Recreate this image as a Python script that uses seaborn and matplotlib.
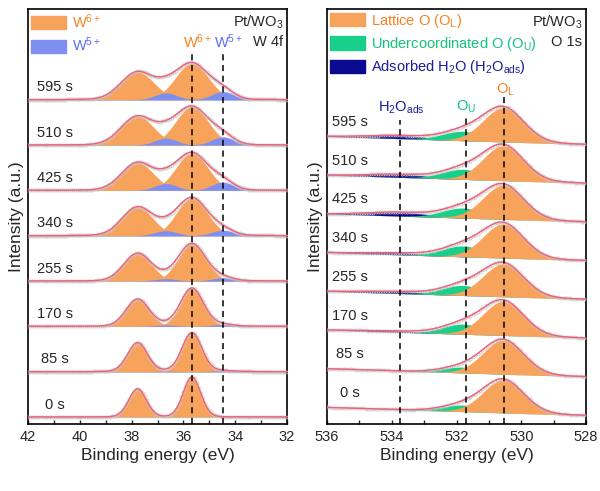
import numpy as np
import pandas as pd
import seaborn as sns
import matplotlib
matplotlib.use('Agg')
import matplotlib.pyplot as plt
from matplotlib.patches import Patch
from matplotlib.ticker import MultipleLocator

sns.set_style('ticks')
plt.rcParams['font.family'] = ['Liberation Sans', 'DejaVu Sans']
plt.rcParams['mathtext.default'] = 'regular'

# sputtering times, bottom to top
times = ['0 s', '85 s', '170 s', '255 s', '340 s', '425 s', '510 s', '595 s']

# W 4f fitted peaks (heights in units of the stacking offset)
w6_pos = [37.77, 35.67]
w5_pos = [36.68, 34.48]
w6_h72 = [0.88, 0.86, 0.84, 0.82, 0.83, 0.82, 0.84, 0.80]
w6_h52 = [0.62, 0.64, 0.60, 0.61, 0.63, 0.61, 0.63, 0.61]
w6_fwhm = [0.80, 0.90, 1.05, 1.25, 1.40, 1.45, 1.50, 1.50]
w5_h72 = [0.00, 0.02, 0.04, 0.07, 0.12, 0.18, 0.18, 0.18]
w5_h52 = [0.00, 0.01, 0.03, 0.05, 0.11, 0.15, 0.15, 0.15]
w5_fwhm = 1.0

# O 1s fitted peaks
ol_pos, ou_pos, h2o_pos = 530.55, 531.8, 533.75
ol_h = [0.85, 0.88, 0.88, 0.85, 0.88, 0.88, 0.90, 0.88]
ou_h = [0.17, 0.15, 0.26, 0.26, 0.28, 0.26, 0.26, 0.24]
h2o_h = [0.00, 0.00, 0.03, 0.05, 0.05, 0.10, 0.08, 0.08]
ol_fwhm, ou_fwhm, h2o_fwhm = 1.48, 1.5, 2.2
o_slope = 0.026

c_or, c_bl, c_gr, c_nv = '#f7a35c', '#7f8ff0', '#19d08a', '#0b0b92'
t_or, t_bl, t_gr, t_nv = '#f5821f', '#5b6ff0', '#12c47f', '#1a1aa0'
c_env = '#f0607a'


def peak(x, c, h, fwhm, eta=0.05):
    s = fwhm / 2.3548
    g = np.exp(-0.5 * ((x - c) / s) ** 2)
    l = 1 / (1 + ((x - c) / (fwhm / 2)) ** 2)
    return h * ((1 - eta) * g + eta * l)


def draw_env(ax, x, y):
    ax.plot(x[::3], y[::3], ls='none', marker='o', ms=2.2, mfc='none',
            mec='#c4c4c4', mew=0.5, zorder=4)
    sns.lineplot(x=x, y=y, ax=ax, color=c_env, lw=1.0, zorder=5)


fig = plt.figure(figsize=(6, 4.91), dpi=100)
ax1 = fig.add_axes([0.0467, 0.1365, 0.4317, 0.8452])
ax2 = fig.add_axes([0.545, 0.1365, 0.4317, 0.8452])

# ---- W 4f ----
xw = np.linspace(42, 32, 401)
for i, t in enumerate(times):
    base = np.full_like(xw, float(i))
    ax1.plot(xw, base, color='#b5c8d8', lw=0.8, zorder=1)
    p6 = [peak(xw, w6_pos[0], w6_h52[i], w6_fwhm[i]), peak(xw, w6_pos[1], w6_h72[i], w6_fwhm[i])]
    p5 = [peak(xw, w5_pos[0], w5_h52[i], w5_fwhm), peak(xw, w5_pos[1], w5_h72[i], w5_fwhm)]
    for p in p6:
        ax1.fill_between(xw, base, base + p, color=c_or, lw=0, zorder=2)
    for p in p5:
        ax1.fill_between(xw, base, base + p, color=c_bl, lw=0, zorder=3)
    draw_env(ax1, xw, base + sum(p6) + sum(p5))
    ax1.text(40.96, i + 0.27, t, ha='center', va='center', fontsize=10.5)

ax1.set_xlim(42, 32)
ax1.set_ylim(-0.155, 9.0)
for xv in [35.66, 34.48]:
    ax1.axvline(xv, ymin=0, ymax=0.896, color='k', ls=(0, (4, 3)), lw=1.1, zorder=6)
ax1.text(35.45, 0.92, 'W$^{6+}$', color=t_or, ha='center', va='center', fontsize=10.5,
         transform=ax1.get_xaxis_transform())
ax1.text(34.25, 0.92, 'W$^{5+}$', color=t_bl, ha='center', va='center', fontsize=10.5,
         transform=ax1.get_xaxis_transform())
ax1.text(0.985, 0.969, 'Pt/WO$_3$', ha='right', va='center', fontsize=10.5, transform=ax1.transAxes)
ax1.text(0.985, 0.92, 'W 4f', ha='right', va='center', fontsize=10.5, transform=ax1.transAxes)
ax1.legend(handles=[Patch(color=c_or, label='W$^{6+}$'), Patch(color=c_bl, label='W$^{5+}$')],
           labelcolor=[t_or, t_bl], loc='upper left', frameon=False, fontsize=10.5,
           handlelength=2.4, handleheight=1.0, handletextpad=0.4, labelspacing=0.35,
           borderaxespad=0.1, borderpad=0.1)

# ---- O 1s ----
xo = np.linspace(536, 528, 321)
for i, t in enumerate(times):
    base = i + o_slope * (xo - 528)
    ax2.plot(xo, base, color='#b5c8d8', lw=0.8, zorder=1)
    pn = peak(xo, h2o_pos, h2o_h[i], h2o_fwhm)
    pu = peak(xo, ou_pos, ou_h[i], ou_fwhm)
    pl = peak(xo, ol_pos, ol_h[i], ol_fwhm)
    ax2.fill_between(xo, base, base + pn, color=c_nv, lw=0, zorder=2)
    ax2.fill_between(xo, base, base + pu, color=c_gr, lw=0, zorder=2)
    ax2.fill_between(xo, base, base + pl, color=c_or, lw=0, zorder=3)
    draw_env(ax2, xo, base + pn + pu + pl)
    ax2.text(535.3, i + o_slope * 7.3 + 0.39, t, ha='center', va='center', fontsize=10.5)

ax2.set_xlim(536, 528)
ax2.set_ylim(-0.22, 10.5)
for xv, top in [(530.54, 0.788), (531.72, 0.745), (533.73, 0.733)]:
    ax2.axvline(xv, ymin=0, ymax=top, color='k', ls=(0, (4, 3)), lw=1.1, zorder=6)
tr = ax2.get_xaxis_transform()
ax2.text(530.48, 0.805, 'O$_L$', color=t_or, ha='center', va='center', fontsize=10.5, transform=tr)
ax2.text(531.7, 0.764, 'O$_U$', color=t_gr, ha='center', va='center', fontsize=10.5, transform=tr)
ax2.text(533.7, 0.761, 'H$_2$O$_{ads}$', color=t_nv, ha='center', va='center', fontsize=10.5, transform=tr)
ax2.text(0.985, 0.969, 'Pt/WO$_3$', ha='right', va='center', fontsize=10.5, transform=ax2.transAxes)
ax2.text(0.985, 0.92, 'O 1s', ha='right', va='center', fontsize=10.5, transform=ax2.transAxes)
ax2.legend(handles=[Patch(color=c_or, label='Lattice O (O$_L$)'),
                    Patch(color=c_gr, label='Undercoordinated O (O$_U$)'),
                    Patch(color=c_nv, label='Adsorbed H$_2$O (H$_2$O$_{ads}$)')],
           labelcolor=[t_or, t_gr, t_nv], loc='upper left', frameon=False, fontsize=10.5,
           handlelength=2.4, handleheight=1.0, handletextpad=0.4, labelspacing=0.35,
           borderaxespad=0.1, borderpad=0.1)

for ax in (ax1, ax2):
    ax.set_yticks([])
    ax.xaxis.set_major_locator(MultipleLocator(2))
    ax.xaxis.set_minor_locator(MultipleLocator(1))
    ax.tick_params(axis='x', which='both', direction='in', length=3, width=1,
                   labelsize=10.5, pad=4)
    for sp in ax.spines.values():
        sp.set_linewidth(1.2)
        sp.set_color('k')
    ax.set_xlabel('Binding energy (eV)', fontsize=12.5, labelpad=3)
    ax.set_ylabel('Intensity (a.u.)', fontsize=12.5, labelpad=3)

fig.savefig('out.png', dpi=100)
